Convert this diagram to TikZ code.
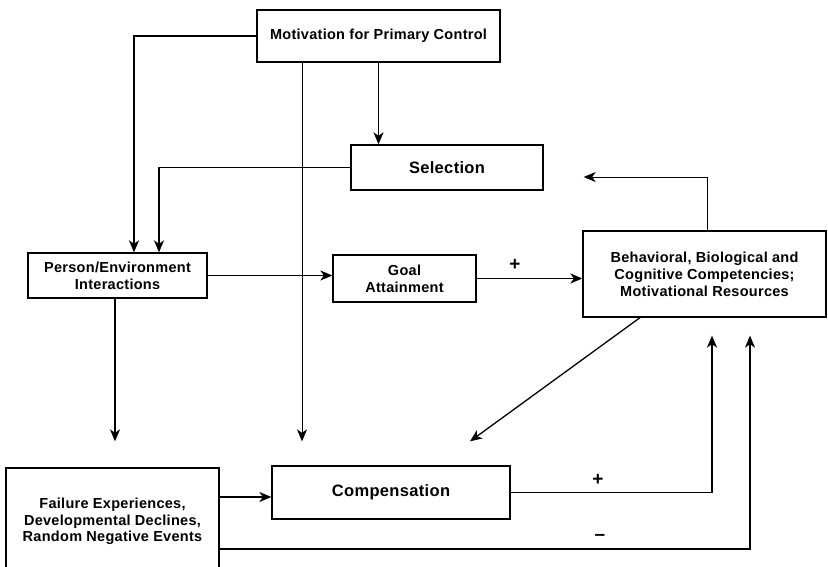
\documentclass[tikz,border=0pt]{standalone}
\usepackage{fontspec}
\setmainfont{Liberation Sans}[LetterSpace=2]
\usetikzlibrary{arrows.meta}
\begin{document}
\begin{tikzpicture}[x=1pt,y=-1pt,
  box/.style={draw, line width=1.3pt, inner sep=0pt, align=center,
    font=\bfseries\fontsize{14.5}{17}\selectfont},
  bigbox/.style={box, font=\bfseries\fontsize{16.5}{19}\selectfont},
  link/.style={line width=1.3pt, -{Stealth[length=12pt,width=10pt,inset=3.5pt]}},
  thinlink/.style={link, line width=0.9pt},
  sign/.style={font=\bfseries\fontsize{19}{19}\selectfont, inner sep=0pt}]
\clip (0,0) rectangle (828,567);
\fill[white] (0,0) rectangle (828,567);

% boxes
\node[box, minimum width=243pt, minimum height=52pt] (mot) at (378.5,36) {Motivation for Primary Control};
\node[bigbox, minimum width=192pt, minimum height=45pt] (sel) at (447,167.5) {Selection};
\node[box, minimum width=179pt, minimum height=45pt] (per) at (117.5,275.5) {Person/Environment\\Interactions};
\node[box, minimum width=143pt, minimum height=47pt] (goal) at (404.5,278.5) {Goal\\Attainment};
\node[box, minimum width=243pt, minimum height=86pt] (beh) at (704.5,274) {Behavioral, Biological and\\Cognitive Competencies;\\Motivational Resources};
\node[bigbox, minimum width=238pt, minimum height=53pt] (comp) at (391,492.5) {Compensation};
\node[box, minimum width=213pt, minimum height=107pt,
  font=\bfseries\fontsize{14.5}{16.5}\selectfont] (fail) at (112.5,521.5)
  {Failure Experiences,\\Developmental Declines,\\Random Negative Events};

% connectors from motivation
\draw[link] (mot.west) -| ([xshift=16.5pt]per.north);
\draw[link, line width=1.7pt] (mot.south) -- (mot.south |- sel.north);
\draw[thinlink] ([xshift=-76.5pt]mot.south) -- ([xshift=-89pt,yshift=24pt]comp.north);

% selection back to person/environment
\draw[link] (sel.west) -| ([xshift=41.5pt]per.north);

% main row
\draw[link] (per.east) -- (per.east -| goal.west);
\draw[link] (goal.east) -- (goal.east -| beh.west);
\node[sign] (plusA) at (515,265) {+};

% feedback to selection
\draw[thinlink] ([xshift=2.5pt]beh.north) |- ([xshift=40pt,yshift=-9.5pt]sel.east);

% resources to compensation
\draw[link] ([xshift=-64.5pt]beh.south) -- ([xshift=79pt,yshift=24pt]comp.north);

% person/environment down to failure
\draw[link] ([xshift=-2.5pt]per.south) -- ([xshift=2.5pt,yshift=26pt]fail.north);

% failure to compensation
\draw[link] ([yshift=24.5pt]fail.east) -- ([yshift=24.5pt]fail.east -| comp.west);

% compensation back to resources (+)
\draw[link] (comp.east) -| ([xshift=7.5pt,yshift=-18pt]beh.south);
\node[sign] (plusB) at (598,480) {+};

% failure back to resources (-)
\draw[link] ([yshift=-27.5pt]fail.east) -| ([xshift=45.5pt,yshift=-18pt]beh.south);
\node[sign] (minus) at (600,537) {--};
\end{tikzpicture}
\end{document}
